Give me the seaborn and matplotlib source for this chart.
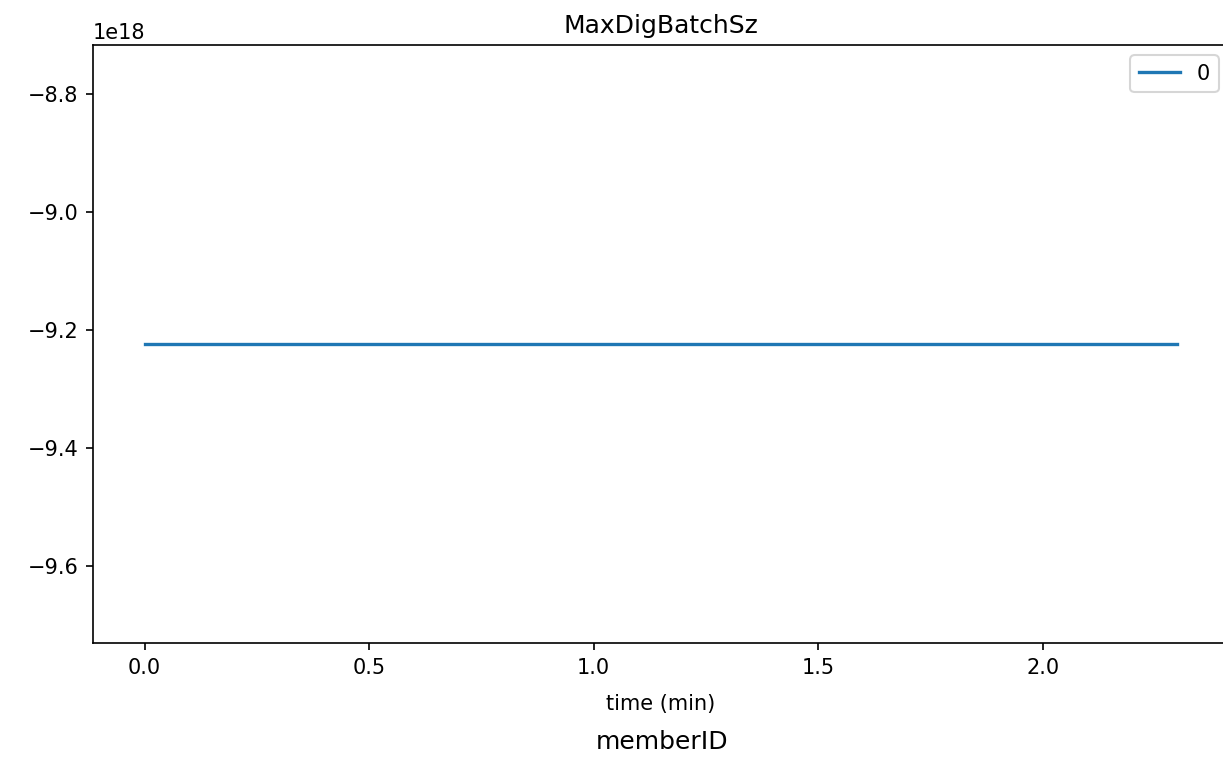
import pandas as pd
import matplotlib
matplotlib.use("Agg")
import matplotlib.pyplot as plt
import seaborn as sns

# time stamps (minutes) and the recorded value for member 0
time_min = [0.0, 0.1, 0.2, 0.3, 0.4, 0.5, 0.6, 0.7, 0.8, 0.9, 1.0, 1.1,
            1.2, 1.3, 1.4, 1.5, 1.6, 1.7, 1.8, 1.9, 2.0, 2.1, 2.2, 2.3]
member_0 = [-9223372036854775808.0] * len(time_min)

df = pd.DataFrame({0: member_0}, index=pd.Index(time_min, name="time (min)"))

fig = plt.figure(figsize=(1223 / 150, 757 / 150), dpi=150)
# the original is cropped on the right, so the axes run past the figure edge
ax = fig.add_axes([93 / 1223, 1 - 643 / 757, (1229 - 93) / 1223, (643 - 45) / 757])

sns.lineplot(data=df, ax=ax, linewidth=1.6)
ax.set_title("MaxDigBatchSz", fontsize=12)
ax.set_xlabel("time (min)", fontsize=10, labelpad=8)
ax.tick_params(labelsize=10)
ax.legend(loc="upper right", fontsize=10)
fig.text(662 / 1223, 0.01, "memberID", ha="center", fontsize=12)

fig.savefig("out.png", dpi=150)
